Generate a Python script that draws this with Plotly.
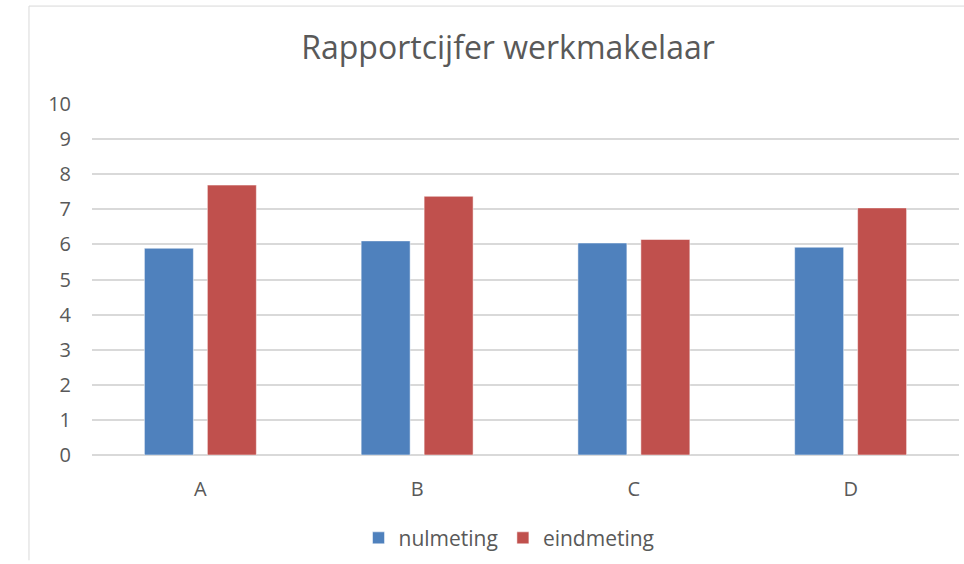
import plotly.graph_objects as go

categories = ["A", "B", "C", "D"]
nulmeting = [5.89, 6.10, 6.04, 5.92]
eindmeting = [7.69, 7.37, 6.14, 7.04]
y_ticks = list(range(0, 11))

FONT = "Open Sans"
TEXT = "#595959"
GRID = "#d9d9d9"

fig = go.Figure()
fig.add_trace(go.Bar(x=categories, y=nulmeting, name="nulmeting",
                     marker=dict(color="#4F81BD", line=dict(color="#ffffff", width=0.5))))
fig.add_trace(go.Bar(x=categories, y=eindmeting, name="eindmeting",
                     marker=dict(color="#C0504D", line=dict(color="#ffffff", width=0.5))))

fig.update_layout(
    width=964, height=564,
    margin=dict(l=92, r=5, t=104, b=101),
    paper_bgcolor="white", plot_bgcolor="white",
    font=dict(family=FONT, color=TEXT, size=20),
    title=dict(text="Rapportcijfer werkmakelaar", x=0.527, xanchor="center",
               y=0.916, yanchor="middle", font=dict(size=32, color=TEXT)),
    barmode="group", bargap=0.419, bargroupgap=0.222,
    legend=dict(orientation="h", x=0.481, xanchor="center", y=-0.237, yanchor="middle",
                font=dict(size=21, color=TEXT), itemwidth=30, traceorder="normal"),
    showlegend=True,
)
fig.update_xaxes(showgrid=False, showline=False, ticks="", ticklabelstandoff=20,
                 tickfont=dict(size=20, color=TEXT))
fig.update_yaxes(range=[0, 10], tickvals=y_ticks, showgrid=True, gridcolor=GRID, gridwidth=1.5,
                 zeroline=True, zerolinecolor=GRID, zerolinewidth=1.5, showline=False,
                 ticks="", ticklabelstandoff=20, tickfont=dict(size=20, color=TEXT))

# chart frame edges visible in the screenshot (top and left)
fig.add_shape(type="line", xref="paper", yref="paper", x0=-0.0727, x1=1.01, y0=1.279, y1=1.279,
              line=dict(color="#d9d9d9", width=1))
fig.add_shape(type="line", xref="paper", yref="paper", x0=-0.0727, x1=-0.0727, y0=-0.3, y1=1.279,
              line=dict(color="#d9d9d9", width=1))

fig.write_html("out.html", config={"displayModeBar": False},
               post_script="document.body.style.margin='0';document.body.style.overflow='hidden';")
